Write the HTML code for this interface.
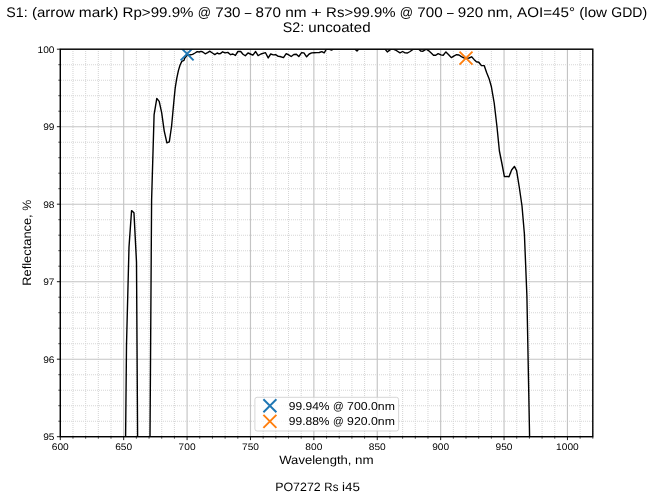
<!DOCTYPE html>
<html lang="en">
<head>
<meta charset="utf-8">
<title>PO7272 Rs i45 reflectance</title>
<style>
html,body{margin:0;padding:0;background:#fff;}
body{width:653px;height:500px;overflow:hidden;font-family:"Liberation Sans",sans-serif;}
svg text{font-family:"Liberation Sans",sans-serif;}
</style>
</head>
<body>
<svg width="653" height="500" viewBox="0 0 653 500" style="display:block;will-change:transform">
<rect width="653" height="500" fill="#ffffff"/>
<defs><clipPath id="ax"><rect x="60.3" y="49.2" width="532.5" height="387.5"/></clipPath><filter id="gs" x="0" y="0" width="653" height="500" filterUnits="userSpaceOnUse" color-interpolation-filters="sRGB"><feColorMatrix type="saturate" values="0"/></filter></defs>
<g stroke="#d6d6d6" stroke-width="1.05" stroke-dasharray="1 1" stroke-dashoffset="1.3" fill="none"><path d="M72.98 436.7V49.2"/><path d="M85.66 436.7V49.2"/><path d="M98.34 436.7V49.2"/><path d="M111.01 436.7V49.2"/><path d="M136.37 436.7V49.2"/><path d="M149.05 436.7V49.2"/><path d="M161.73 436.7V49.2"/><path d="M174.41 436.7V49.2"/><path d="M199.76 436.7V49.2"/><path d="M212.44 436.7V49.2"/><path d="M225.12 436.7V49.2"/><path d="M237.8 436.7V49.2"/><path d="M263.16 436.7V49.2"/><path d="M275.84 436.7V49.2"/><path d="M288.51 436.7V49.2"/><path d="M301.19 436.7V49.2"/><path d="M326.55 436.7V49.2"/><path d="M339.23 436.7V49.2"/><path d="M351.91 436.7V49.2"/><path d="M364.59 436.7V49.2"/><path d="M389.94 436.7V49.2"/><path d="M402.62 436.7V49.2"/><path d="M415.3 436.7V49.2"/><path d="M427.98 436.7V49.2"/><path d="M453.34 436.7V49.2"/><path d="M466.01 436.7V49.2"/><path d="M478.69 436.7V49.2"/><path d="M491.37 436.7V49.2"/><path d="M516.73 436.7V49.2"/><path d="M529.41 436.7V49.2"/><path d="M542.09 436.7V49.2"/><path d="M554.76 436.7V49.2"/><path d="M580.12 436.7V49.2"/><path d="M592.8 436.7V49.2"/><path d="M60.3 421.2H592.8"/><path d="M60.3 405.7H592.8"/><path d="M60.3 390.2H592.8"/><path d="M60.3 374.7H592.8"/><path d="M60.3 343.7H592.8"/><path d="M60.3 328.2H592.8"/><path d="M60.3 312.7H592.8"/><path d="M60.3 297.2H592.8"/><path d="M60.3 266.2H592.8"/><path d="M60.3 250.7H592.8"/><path d="M60.3 235.2H592.8"/><path d="M60.3 219.7H592.8"/><path d="M60.3 188.7H592.8"/><path d="M60.3 173.2H592.8"/><path d="M60.3 157.7H592.8"/><path d="M60.3 142.2H592.8"/><path d="M60.3 111.2H592.8"/><path d="M60.3 95.7H592.8"/><path d="M60.3 80.2H592.8"/><path d="M60.3 64.7H592.8"/></g>
<g stroke="#c4c4c4" stroke-width="1.15" fill="none"><path d="M60.3 436.7V49.2"/><path d="M123.69 436.7V49.2"/><path d="M187.09 436.7V49.2"/><path d="M250.48 436.7V49.2"/><path d="M313.87 436.7V49.2"/><path d="M377.26 436.7V49.2"/><path d="M440.66 436.7V49.2"/><path d="M504.05 436.7V49.2"/><path d="M567.44 436.7V49.2"/><path d="M60.3 436.7H592.8"/><path d="M60.3 359.2H592.8"/><path d="M60.3 281.7H592.8"/><path d="M60.3 204.2H592.8"/><path d="M60.3 126.7H592.8"/><path d="M60.3 49.2H592.8"/></g>
<g clip-path="url(#ax)" fill="none" stroke-linejoin="round">
<path d="M125.6 436.7 L126.5 345 L129 247 L131.56 210.6 L133.96 212.8 L136.5 262 L137.6 436.7" stroke="#000" stroke-width="1.4"/>
<path d="M150 436.7 L151.6 200 L154.1 114.6 L156.8 98.4 L159.2 101.4 L161.7 112.8 L164.2 130.8 L166.9 142.8 L169.3 141.8 L171.6 126 L174 100 L175.2 88 L176.76 78.4 L178.4 70.6 L180 65.2 L181.8 61.4 L184 60.4 L184.8 58 L187.2 55 L189.6 55 L192.6 54.4 L195 53 L197.2 51.6 L199.2 52 L201 51.4 L202.8 52 L205.2 53.8 L207.6 52.6 L209.6 51.2 L212.4 53 L214.8 54.6 L217.2 53 L219 53.8 L220.4 53.6 L222.6 51.8 L225.05 52.9 L227.8 52.4 L230.6 54.7 L232.9 54 L235.4 55.4 L237.9 51.5 L240.7 51.5 L243 54.2 L245.3 55.8 L248 52.9 L250.3 54 L252.9 55.2 L255.65 51.5 L258.1 55.6 L260.9 54 L265.5 52.7 L268.2 57.9 L270.7 54 L273.3 54.9 L275.6 54.7 L278.3 56.4 L280 56.5 L283.5 57.6 L286.2 53.6 L288.7 54.9 L291.2 56.5 L293.8 54.5 L296.4 54.2 L298.8 56.5 L301.6 52.7 L303.9 52.9 L306.6 56.8 L309.2 54 L311.7 52.9 L314.2 52.7 L316.75 52.6 L319.3 52.5 L321.8 51.6 L324.2 52.8 L326.4 49.2 L329 49 L331.5 50.1 L333.3 49.1 L354.7 49 L357 51 L358.8 49 L385 49 L387.3 51.9 L391 49.2 L392.8 48.8 L395.5 50 L400 52.9 L402.6 51.5 L405.05 52.9 L407.5 53 L410.1 51.5 L413.3 49.2 L418.8 49.2 L420.7 51 L423 51.2 L426.2 49.2 L428.5 50.6 L431.2 53 L433.5 55.2 L435.8 55.2 L438.1 53.6 L440.9 54.9 L443.2 55.2 L445.9 51.9 L448.7 54.7 L451.3 57.6 L454.2 55.8 L456.6 54.7 L459 55 L461.4 56.6 L463.8 57.8 L466.2 58.2 L469 58 L471.6 56.8 L474 59.4 L476.4 61.8 L478.8 62.2 L481.4 65.6 L484.2 65.6 L486.6 72.4 L489 78.4 L491.4 86.8 L494.2 103 L497 127 L499.4 151 L502 164 L504.4 176.6 L507 176.4 L509 176.8 L511.6 170 L514.4 166.4 L516.6 170.6 L519.4 188 L522 206 L524.4 234 L526.9 296 L529.6 436.7" stroke="#000" stroke-width="1.4"/>
<path d="M180.59 47.35L193.59 60.35M180.59 60.35L193.59 47.35" stroke="#1f77b4" stroke-width="1.9" fill="none"/>
<path d="M459.51 51.6L472.51 64.6M459.51 64.6L472.51 51.6" stroke="#ff7f0e" stroke-width="1.9" fill="none"/>
</g>
<g stroke="#000" fill="none"><path stroke-width="0.9" d="M60.3 436.7v3.4M123.69 436.7v3.4M187.09 436.7v3.4M250.48 436.7v3.4M313.87 436.7v3.4M377.26 436.7v3.4M440.66 436.7v3.4M504.05 436.7v3.4M567.44 436.7v3.4M60.3 436.7h-3.4M60.3 359.2h-3.4M60.3 281.7h-3.4M60.3 204.2h-3.4M60.3 126.7h-3.4M60.3 49.2h-3.4"/><path stroke-width="0.7" d="M72.98 436.7v2M85.66 436.7v2M98.34 436.7v2M111.01 436.7v2M136.37 436.7v2M149.05 436.7v2M161.73 436.7v2M174.41 436.7v2M199.76 436.7v2M212.44 436.7v2M225.12 436.7v2M237.8 436.7v2M263.16 436.7v2M275.84 436.7v2M288.51 436.7v2M301.19 436.7v2M326.55 436.7v2M339.23 436.7v2M351.91 436.7v2M364.59 436.7v2M389.94 436.7v2M402.62 436.7v2M415.3 436.7v2M427.98 436.7v2M453.34 436.7v2M466.01 436.7v2M478.69 436.7v2M491.37 436.7v2M516.73 436.7v2M529.41 436.7v2M542.09 436.7v2M554.76 436.7v2M580.12 436.7v2M592.8 436.7v2M60.3 421.2h-2M60.3 405.7h-2M60.3 390.2h-2M60.3 374.7h-2M60.3 343.7h-2M60.3 328.2h-2M60.3 312.7h-2M60.3 297.2h-2M60.3 266.2h-2M60.3 250.7h-2M60.3 235.2h-2M60.3 219.7h-2M60.3 188.7h-2M60.3 173.2h-2M60.3 157.7h-2M60.3 142.2h-2M60.3 111.2h-2M60.3 95.7h-2M60.3 80.2h-2M60.3 64.7h-2"/></g>
<rect x="60.3" y="49.2" width="532.5" height="387.5" fill="none" stroke="#000" stroke-width="1.4"/>
<rect x="254.9" y="397.3" width="143.7" height="33.7" rx="2.2" ry="2.2" fill="#fff" fill-opacity="0.8" stroke="#ccc" stroke-opacity="0.8" stroke-width="1"/>
<path d="M263.4 399.25L276.4 412.25M263.4 412.25L276.4 399.25" stroke="#1f77b4" stroke-width="1.9" fill="none"/>
<path d="M263.4 414.9L276.4 427.9M263.4 427.9L276.4 414.9" stroke="#ff7f0e" stroke-width="1.9" fill="none"/>
<g style="font-family:'Liberation Sans',sans-serif;text-rendering:geometricPrecision" fill="#000" filter="url(#gs)">
<text y="16.5" font-size="13.94"><tspan x="6.39" textLength="21.35" lengthAdjust="spacingAndGlyphs">S1:</tspan> <tspan x="31.96" textLength="42.7" lengthAdjust="spacingAndGlyphs">(arrow</tspan> <tspan x="78.88" textLength="39.41" lengthAdjust="spacingAndGlyphs">mark)</tspan> <tspan x="122.51" textLength="70.97" lengthAdjust="spacingAndGlyphs">Rp&gt;99.9%</tspan> <tspan x="197.7" textLength="13.28" lengthAdjust="spacingAndGlyphs">@</tspan> <tspan x="215.2" textLength="25.35" lengthAdjust="spacingAndGlyphs">730</tspan> <tspan x="244.77" textLength="6.64" lengthAdjust="spacingAndGlyphs">–</tspan> <tspan x="255.63" textLength="25.35" lengthAdjust="spacingAndGlyphs">870</tspan> <tspan x="285.2" textLength="21.35" lengthAdjust="spacingAndGlyphs">nm</tspan> <tspan x="310.78" textLength="11.13" lengthAdjust="spacingAndGlyphs">+</tspan> <tspan x="326.13" textLength="69.46" lengthAdjust="spacingAndGlyphs">Rs&gt;99.9%</tspan> <tspan x="399.81" textLength="13.28" lengthAdjust="spacingAndGlyphs">@</tspan> <tspan x="417.31" textLength="25.35" lengthAdjust="spacingAndGlyphs">700</tspan> <tspan x="446.88" textLength="6.64" lengthAdjust="spacingAndGlyphs">–</tspan> <tspan x="457.74" textLength="25.35" lengthAdjust="spacingAndGlyphs">920</tspan> <tspan x="487.31" textLength="25.57" lengthAdjust="spacingAndGlyphs">nm,</tspan> <tspan x="517.1" textLength="57.89" lengthAdjust="spacingAndGlyphs">AOI=45°</tspan> <tspan x="579.21" textLength="27.86" lengthAdjust="spacingAndGlyphs">(low</tspan> <tspan x="611.29" textLength="35.92" lengthAdjust="spacingAndGlyphs">GDD)</tspan></text>
<text y="31.5" font-size="13.94"><tspan x="282.81" textLength="21.35" lengthAdjust="spacingAndGlyphs">S2:</tspan> <tspan x="308.38" textLength="62.2" lengthAdjust="spacingAndGlyphs">uncoated</tspan></text>
<text y="450.4" font-size="9.57"><tspan x="51.81" textLength="16.99" lengthAdjust="spacingAndGlyphs">600</tspan></text>
<text y="450.4" font-size="9.57"><tspan x="115.2" textLength="16.99" lengthAdjust="spacingAndGlyphs">650</tspan></text>
<text y="450.4" font-size="9.57"><tspan x="178.59" textLength="16.99" lengthAdjust="spacingAndGlyphs">700</tspan></text>
<text y="450.4" font-size="9.57"><tspan x="241.98" textLength="16.99" lengthAdjust="spacingAndGlyphs">750</tspan></text>
<text y="450.4" font-size="9.57"><tspan x="305.38" textLength="16.99" lengthAdjust="spacingAndGlyphs">800</tspan></text>
<text y="450.4" font-size="9.57"><tspan x="368.77" textLength="16.99" lengthAdjust="spacingAndGlyphs">850</tspan></text>
<text y="450.4" font-size="9.57"><tspan x="432.16" textLength="16.99" lengthAdjust="spacingAndGlyphs">900</tspan></text>
<text y="450.4" font-size="9.57"><tspan x="495.56" textLength="16.99" lengthAdjust="spacingAndGlyphs">950</tspan></text>
<text y="450.4" font-size="9.57"><tspan x="556.12" textLength="22.65" lengthAdjust="spacingAndGlyphs">1000</tspan></text>
<text y="440.05" font-size="9.57"><tspan x="43.18" textLength="11.32" lengthAdjust="spacingAndGlyphs">95</tspan></text>
<text y="362.55" font-size="9.57"><tspan x="43.18" textLength="11.32" lengthAdjust="spacingAndGlyphs">96</tspan></text>
<text y="285.05" font-size="9.57"><tspan x="43.18" textLength="11.32" lengthAdjust="spacingAndGlyphs">97</tspan></text>
<text y="207.55" font-size="9.57"><tspan x="43.18" textLength="11.32" lengthAdjust="spacingAndGlyphs">98</tspan></text>
<text y="130.05" font-size="9.57"><tspan x="43.18" textLength="11.32" lengthAdjust="spacingAndGlyphs">99</tspan></text>
<text y="52.55" font-size="9.57"><tspan x="37.51" textLength="16.99" lengthAdjust="spacingAndGlyphs">100</tspan></text>
<text y="463.5" font-size="12.13"><tspan x="279.28" textLength="72.19" lengthAdjust="spacingAndGlyphs">Wavelength,</tspan> <tspan x="355.14" textLength="18.57" lengthAdjust="spacingAndGlyphs">nm</tspan></text>
<text y="490.7" font-size="12.13"><tspan x="275.23" textLength="45.45" lengthAdjust="spacingAndGlyphs">PO7272</tspan> <tspan x="324.35" textLength="14.04" lengthAdjust="spacingAndGlyphs">Rs</tspan> <tspan x="342.06" textLength="17.91" lengthAdjust="spacingAndGlyphs">i45</tspan></text>
<text y="0" font-size="12.13" transform="translate(31.3 242.7) rotate(-90)"><tspan x="-43.02" textLength="71.4" lengthAdjust="spacingAndGlyphs">Reflectance,</tspan> <tspan x="32.05" textLength="10.97" lengthAdjust="spacingAndGlyphs">%</tspan></text>
<text y="409.6" font-size="11.4"><tspan x="288.75" textLength="40.8" lengthAdjust="spacingAndGlyphs">99.94%</tspan> <tspan x="332.95" textLength="10.7" lengthAdjust="spacingAndGlyphs">@</tspan> <tspan x="347.05" textLength="47.84" lengthAdjust="spacingAndGlyphs">700.0nm</tspan></text>
<text y="425.3" font-size="11.4"><tspan x="288.75" textLength="40.8" lengthAdjust="spacingAndGlyphs">99.88%</tspan> <tspan x="332.95" textLength="10.7" lengthAdjust="spacingAndGlyphs">@</tspan> <tspan x="347.05" textLength="47.84" lengthAdjust="spacingAndGlyphs">920.0nm</tspan></text>
</g>
</svg>
</body>
</html>
